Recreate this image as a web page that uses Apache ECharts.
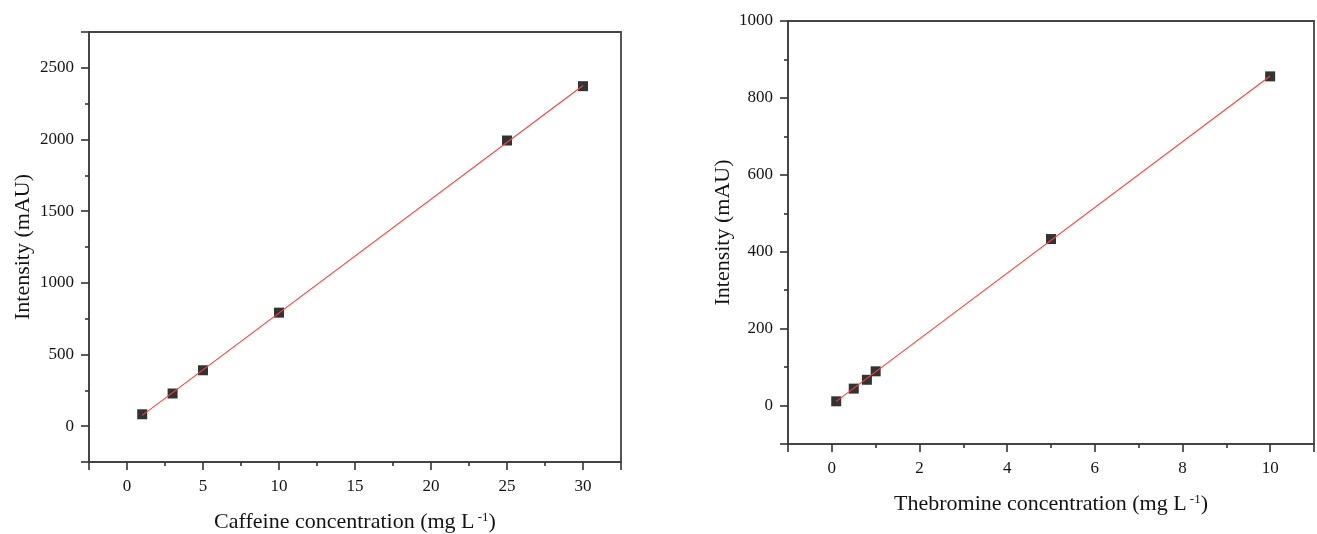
<!DOCTYPE html>
<html><head><meta charset="utf-8">
<script src="https://cdn.jsdelivr.net/npm/echarts@6/dist/echarts.min.js"></script>
<style>html,body{margin:0;padding:0;background:#fff}#c{width:1317px;height:534px}</style>
</head><body><div id="c"></div>
<script>
// ---- Data ----
const caffeineConc = [1, 3, 5, 10, 25, 30];
const caffeineIntensity = [83, 228, 390, 792, 1993, 2372];
const caffeineFitConc = [1, 30];
const caffeineFitIntensity = [75, 2377];

const theobromineConc = [0.1, 0.5, 0.8, 1, 5, 10];
const theobromineIntensity = [11, 44, 67, 89, 433, 856];
const theobromineFitConc = [0.1, 10];
const theobromineFitIntensity = [11, 857];

const caffeineXTickLabels = [0, 5, 10, 15, 20, 25, 30];
const caffeineYTickLabels = [0, 500, 1000, 1500, 2000, 2500];
const theobromineXTickLabels = [0, 2, 4, 6, 8, 10];
const theobromineYTickLabels = [0, 200, 400, 600, 800, 1000];

const zip = (a, b) => a.map((v, i) => [v, b[i]]);

const FONT = 'Liberation Serif';
const AX = '#444';
const TXT = '#141414';

function axisBase(labels, margin) {
  return {
    type: 'value',
    splitLine: { show: false },
    axisLine: { show: true, onZero: false, lineStyle: { color: AX, width: 1.8 } },
    axisTick: { show: true, inside: false, length: 8, lineStyle: { color: '#333', width: 1.6 } },
    minorTick: { show: true, splitNumber: 2, length: 4, lineStyle: { color: '#333', width: 1.6 } },
    axisLabel: {
      fontFamily: FONT, fontSize: 17, color: TXT, margin: margin,
      formatter: v => labels.some(l => Math.abs(l - v) < 1e-9) ? String(v) : ''
    },
    nameLocation: 'middle',
    nameTextStyle: { fontFamily: FONT, fontSize: 22, color: TXT }
  };
}

function richName(main) {
  return {
    name: '{a|' + main + ' (mg L}{s| -1}{a|)}',
    nameTextStyle: {
      rich: {
        a: { fontFamily: FONT, fontSize: 22, color: TXT },
        s: { fontFamily: FONT, fontSize: 13, color: TXT, verticalAlign: 'top' }
      }
    }
  };
}

const chart = echarts.init(document.getElementById('c'));
chart.setOption({
  animation: false,
  backgroundColor: '#fff',
  grid: [
    { left: 89, top: 32, right: 696, bottom: 72, show: true, borderColor: AX, borderWidth: 1.8,
      containLabel: false, outerBoundsMode: 'none' },
    { left: 788, top: 21, right: 3, bottom: 90, show: true, borderColor: AX, borderWidth: 1.8,
      containLabel: false, outerBoundsMode: 'none' }
  ],
  xAxis: [
    Object.assign(axisBase(caffeineXTickLabels, 16), { gridIndex: 0, min: -2.5, max: 32.5, splitNumber: 7, nameGap: 49 }, richName('Caffeine concentration')),
    Object.assign(axisBase(theobromineXTickLabels, 16), { gridIndex: 1, min: -1, max: 11, splitNumber: 6, nameGap: 49 }, richName('Thebromine concentration'))
  ],
  yAxis: [
    Object.assign(axisBase(caffeineYTickLabels, 15), { gridIndex: 0, min: -250, max: 2750, splitNumber: 6, name: 'Intensity (mAU)', nameGap: 55 }),
    Object.assign(axisBase(theobromineYTickLabels, 15), { gridIndex: 1, min: -100, max: 1000, splitNumber: 5, name: 'Intensity (mAU)', nameGap: 54 })
  ],
  series: [
    { type: 'scatter', xAxisIndex: 0, yAxisIndex: 0, data: zip(caffeineConc, caffeineIntensity),
      symbol: 'rect', symbolSize: 10, z: 2,
      itemStyle: { color: '#000', borderWidth: 0 } },
    { type: 'line', xAxisIndex: 0, yAxisIndex: 0, data: zip(caffeineFitConc, caffeineFitIntensity),
      showSymbol: false, symbol: 'none', z: 3, lineStyle: { color: '#ff4040', width: 1.1 } },
    { type: 'scatter', xAxisIndex: 1, yAxisIndex: 1, data: zip(theobromineConc, theobromineIntensity),
      symbol: 'rect', symbolSize: 10, z: 2,
      itemStyle: { color: '#000', borderWidth: 0 } },
    { type: 'line', xAxisIndex: 1, yAxisIndex: 1, data: zip(theobromineFitConc, theobromineFitIntensity),
      showSymbol: false, symbol: 'none', z: 3, lineStyle: { color: '#ff4040', width: 1.1 } }
  ]
});
</script>
</body></html>
